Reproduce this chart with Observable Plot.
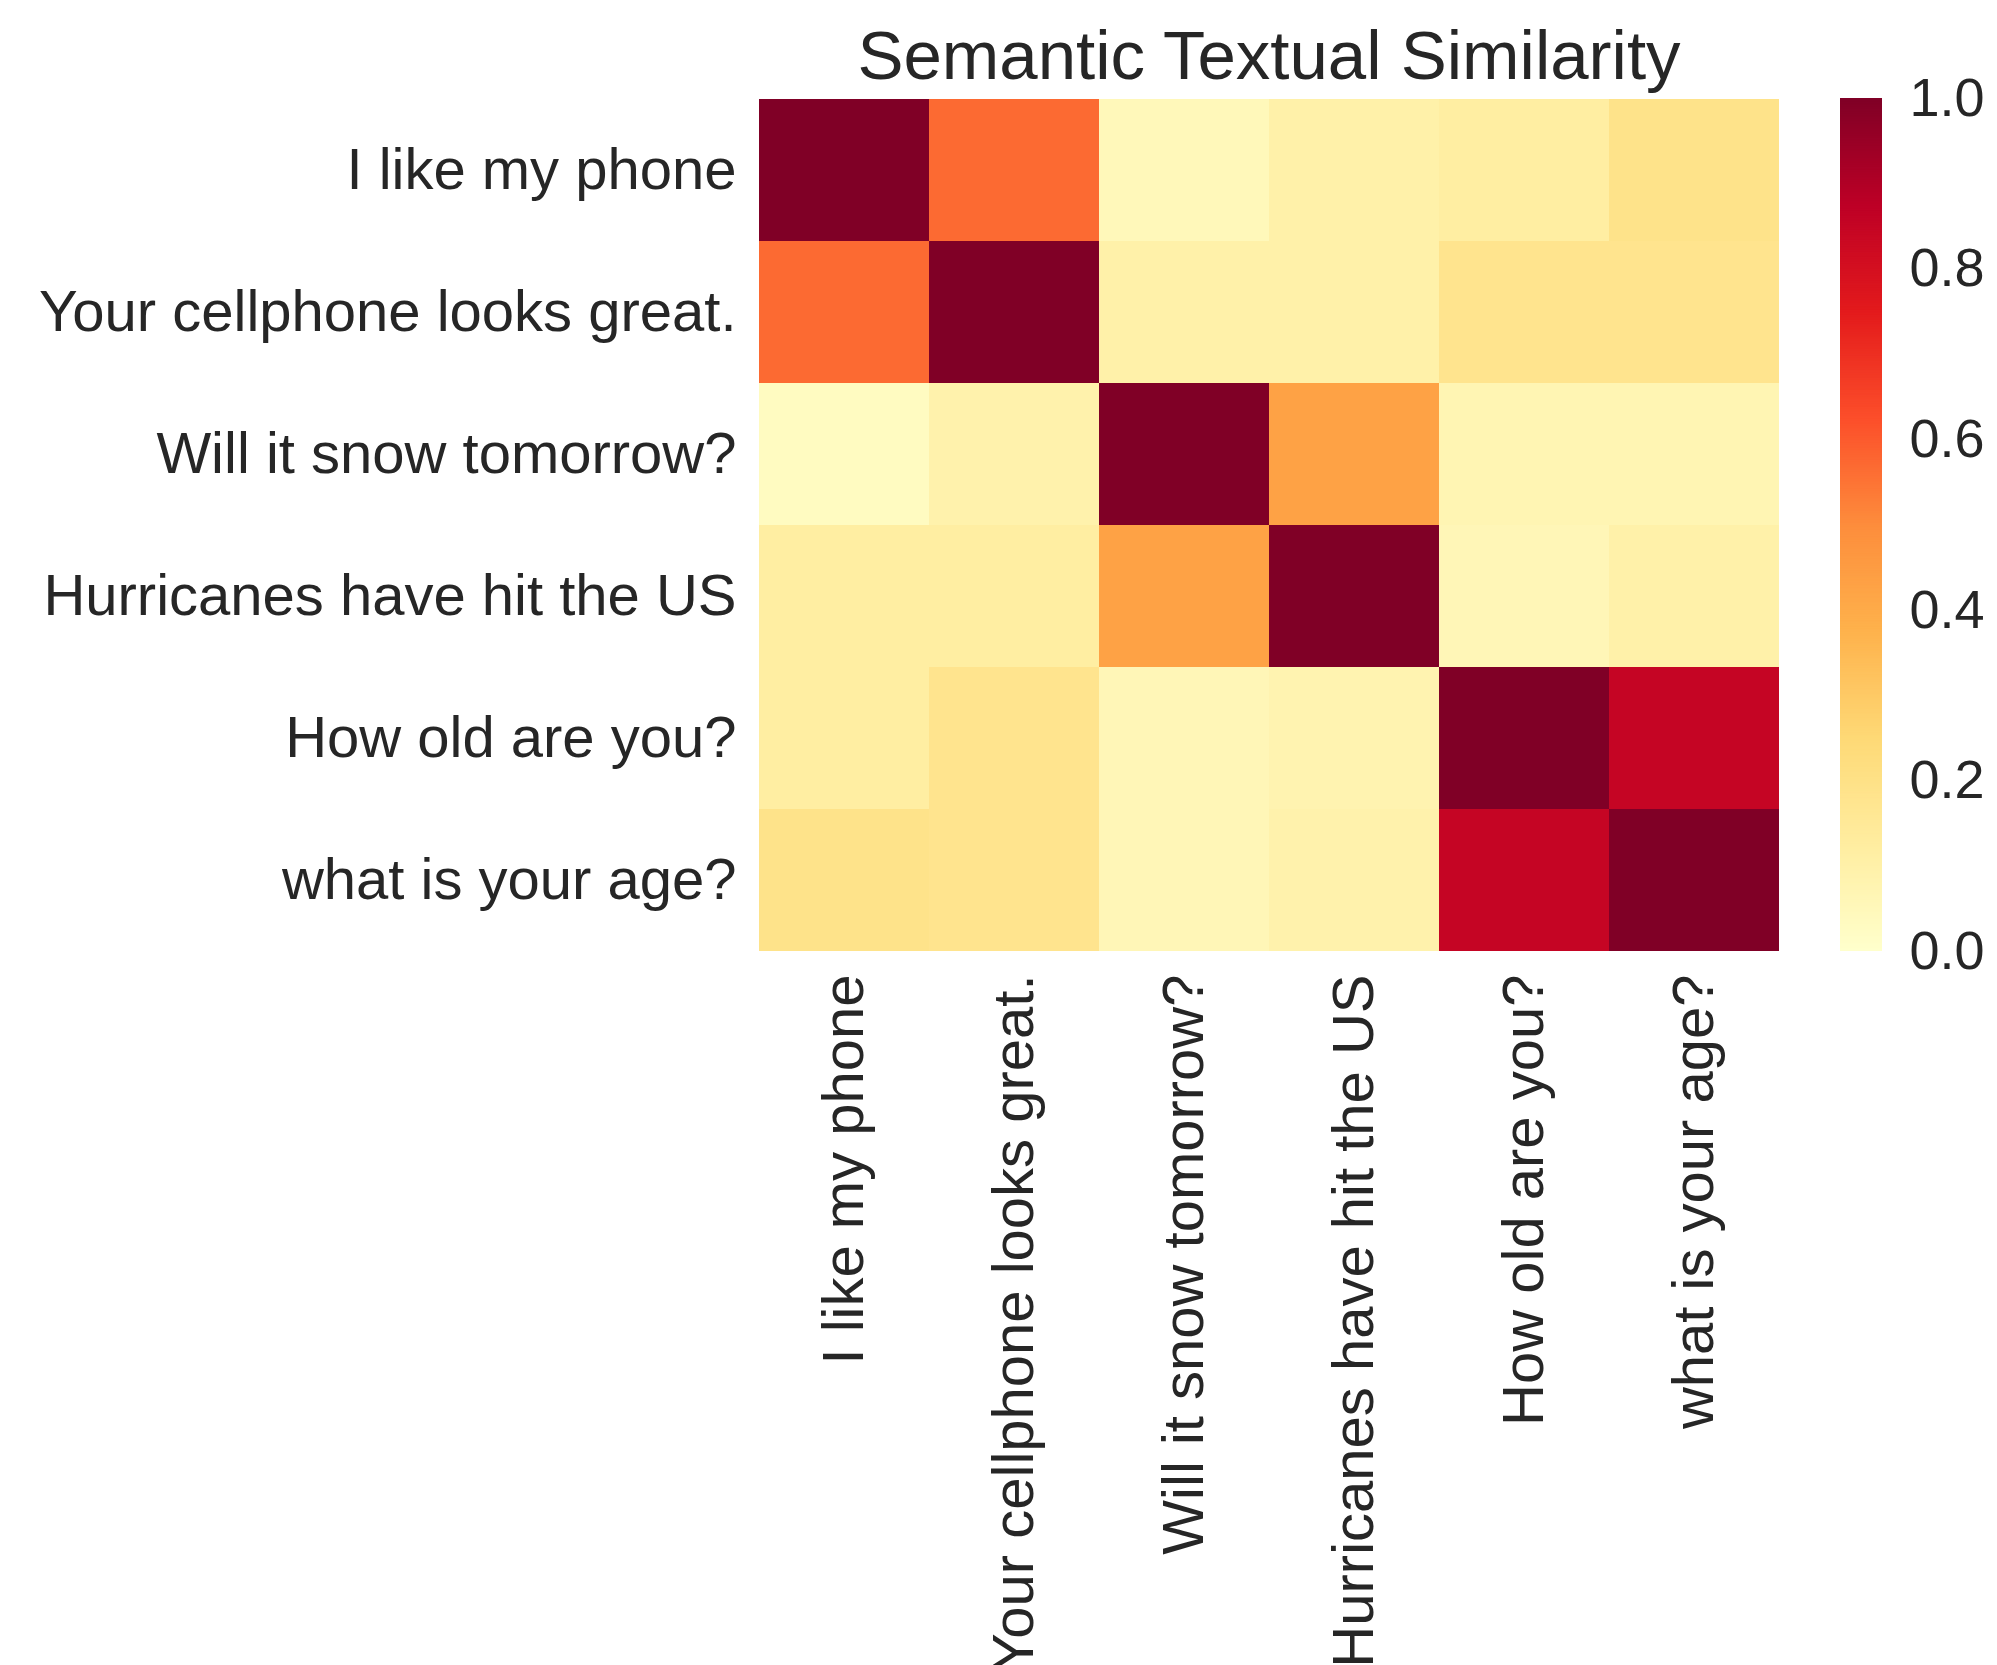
<!DOCTYPE html>
<html>
<head>
<meta charset="utf-8">
<script src="https://cdn.jsdelivr.net/npm/d3@7"></script>
<script src="https://cdn.jsdelivr.net/npm/@observablehq/plot@0.6"></script>
<style>
  html, body { margin: 0; padding: 0; background: #ffffff; }
  #wrap { position: relative; width: 1997px; height: 1665px; overflow: hidden; background: #ffffff; }
  #wrap svg { position: absolute; top: 0; }
</style>
</head>
<body>
<div id="wrap"></div>
<script>
// ---- data ----
const title = "Semantic Textual Similarity";
const sentences = [
  "I like my phone",
  "Your cellphone looks great.",
  "Will it snow tomorrow?",
  "Hurricanes have hit the US",
  "How old are you?",
  "what is your age?"
];
const row0 = [1.00, 0.57, 0.05, 0.10, 0.12, 0.19];
const row1 = [0.57, 1.00, 0.10, 0.10, 0.18, 0.18];
const row2 = [0.03, 0.09, 1.00, 0.43, 0.07, 0.07];
const row3 = [0.12, 0.12, 0.43, 1.00, 0.06, 0.10];
const row4 = [0.12, 0.18, 0.06, 0.08, 1.00, 0.85];
const row5 = [0.19, 0.18, 0.06, 0.09, 0.85, 1.00];
const rows = [row0, row1, row2, row3, row4, row5];
const colorTicks = [0, 0.2, 0.4, 0.6, 0.8, 1.0];
// YlOrRd palette stops
const palette = ["#ffffcc","#ffeda0","#fed976","#feb24c","#fd8d3c","#fc4e2a","#e31a1c","#bd0026","#800026"];
const paletteStops = palette.map((_, i) => i / (palette.length - 1));

// ---- build table ----
const cells = [];
rows.forEach((r, i) => r.forEach((v, j) => cells.push({row: sentences[i], col: sentences[j], value: v})));

const colorScale = {type: "linear", domain: paletteStops, range: palette, interpolate: "rgb"};
const font = "'Liberation Sans', Arial, sans-serif";
const textColor = "#262626";

const main = Plot.plot({
  width: 1997,
  height: 1665,
  marginLeft: 758,
  marginRight: 218,
  marginTop: 98,
  marginBottom: 714,
  style: {fontFamily: font, fontSize: "58px", color: textColor, background: "transparent", overflow: "visible"},
  x: {domain: sentences, padding: 0, tickRotate: -90, tickSize: 0, tickPadding: 23, label: null},
  y: {domain: sentences, padding: 0, tickSize: 0, tickPadding: 22, label: null},
  color: colorScale,
  marks: [
    Plot.cell(cells, {x: "col", y: "row", fill: "value", inset: 0, shapeRendering: "crispEdges"}),
    Plot.text([title], {frameAnchor: "top", dy: -20, lineAnchor: "bottom", fontSize: 69, fill: textColor})
  ]
});
main.style.left = "0px";
document.getElementById("wrap").appendChild(main);

// ---- colorbar ----
const step = 0.002;
const ramp = d3.range(0, 1, step);
const bar = Plot.plot({
  width: 157,
  height: 1665,
  marginLeft: 0,
  marginRight: 115,
  marginTop: 98,
  marginBottom: 714,
  style: {fontFamily: font, fontSize: "54px", color: textColor, background: "transparent", overflow: "visible"},
  x: {domain: [0, 1], axis: null},
  y: {domain: [0, 1], axis: "right", ticks: colorTicks, tickFormat: d3.format(".1f"), tickSize: 0, tickPadding: 27, label: null},
  color: colorScale,
  marks: [
    Plot.rect(ramp, {x1: 0, x2: 1, y1: d => d, y2: d => Math.min(1, d + step * 1.5), fill: d => d + step / 2})
  ]
});
bar.style.left = "1840px";
document.getElementById("wrap").appendChild(bar);
</script>
</body>
</html>
